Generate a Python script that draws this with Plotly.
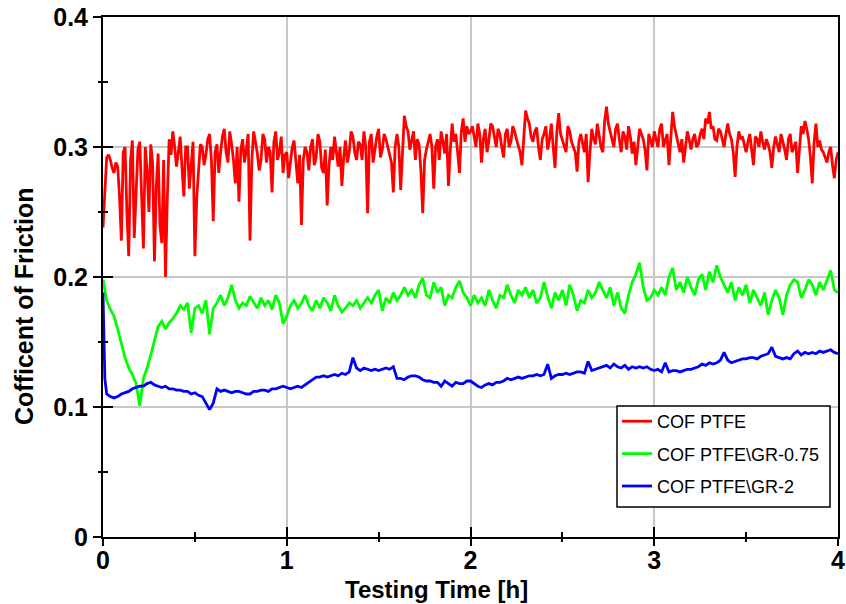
import numpy as np
import plotly.graph_objects as go

# ---- data ----
x_ticks = [0, 1, 2, 3, 4]
y_ticks = [0, 0.1, 0.2, 0.3, 0.4]
y_tick_labels = ["0", "0.1", "0.2", "0.3", "0.4"]
x_tick_labels = ["0", "1", "2", "3", "4"]
x_title = "Testing Time [h]"
y_title = "Cofficent of Friction"

series_names = ["COF PTFE", "COF PTFE\\GR-0.75", "COF PTFE\\GR-2"]
series_colors = ["#ff0000", "#00ff00", "#0000ff"]

# COF PTFE, readings at 0, 0.02, 0.04 ... 4.00 h
cof_ptfe_even = [
    0.238, 0.292, 0.290, 0.280, 0.285, 0.228, 0.300, 0.216, 0.305, 0.262,
    0.304, 0.222, 0.282, 0.302, 0.212, 0.295, 0.226, 0.200, 0.306, 0.312,
    0.285, 0.308, 0.262, 0.300, 0.290, 0.216, 0.282, 0.300, 0.294, 0.310,
    0.243, 0.302, 0.296, 0.314, 0.288, 0.302, 0.272, 0.258, 0.306, 0.298,
    0.228, 0.312, 0.295, 0.290, 0.306, 0.300, 0.265, 0.312, 0.296, 0.280,
    0.296, 0.288, 0.305, 0.272, 0.240, 0.300, 0.282, 0.306, 0.292, 0.304,
    0.280, 0.255, 0.300, 0.308, 0.285, 0.270, 0.305, 0.296, 0.308, 0.290,
    0.302, 0.312, 0.249, 0.310, 0.300, 0.314, 0.298, 0.306, 0.295, 0.265,
    0.310, 0.267, 0.324, 0.312, 0.305, 0.290, 0.302, 0.249, 0.298, 0.310,
    0.268, 0.306, 0.312, 0.295, 0.270, 0.318, 0.310, 0.280, 0.322, 0.316,
    0.312, 0.306, 0.318, 0.288, 0.314, 0.305, 0.316, 0.300, 0.310, 0.292,
    0.314, 0.304, 0.312, 0.300, 0.286, 0.328, 0.318, 0.304, 0.315, 0.290,
    0.310, 0.298, 0.318, 0.284, 0.326, 0.305, 0.296, 0.312, 0.300, 0.281,
    0.310, 0.296, 0.273, 0.314, 0.302, 0.310, 0.296, 0.331, 0.312, 0.300,
    0.318, 0.296, 0.308, 0.316, 0.295, 0.286, 0.314, 0.306, 0.282, 0.305,
    0.312, 0.300, 0.318, 0.306, 0.286, 0.327, 0.310, 0.296, 0.288, 0.312,
    0.298, 0.310, 0.302, 0.314, 0.322, 0.327, 0.316, 0.305, 0.312, 0.300,
    0.318, 0.306, 0.277, 0.312, 0.308, 0.296, 0.310, 0.286, 0.306, 0.312,
    0.298, 0.302, 0.284, 0.308, 0.296, 0.305, 0.290, 0.310, 0.300, 0.280,
    0.316, 0.320, 0.306, 0.272, 0.318, 0.305, 0.296, 0.288, 0.300, 0.276,
    0.296,
]
# COF PTFE, readings at 0.01, 0.03 ... 3.99 h
cof_ptfe_odd = [
    0.270, 0.294, 0.284, 0.288, 0.262, 0.296, 0.250, 0.290, 0.230, 0.298,
    0.268, 0.300, 0.250, 0.288, 0.270, 0.240, 0.290, 0.260, 0.294, 0.300,
    0.296, 0.284, 0.300, 0.268, 0.304, 0.260, 0.302, 0.286, 0.306, 0.290,
    0.296, 0.280, 0.308, 0.296, 0.312, 0.290, 0.300, 0.298, 0.288, 0.310,
    0.290, 0.304, 0.282, 0.310, 0.288, 0.296, 0.304, 0.290, 0.308, 0.294,
    0.276, 0.300, 0.288, 0.294, 0.290, 0.296, 0.300, 0.286, 0.310, 0.284,
    0.298, 0.286, 0.290, 0.296, 0.300, 0.292, 0.288, 0.312, 0.296, 0.304,
    0.290, 0.300, 0.304, 0.288, 0.308, 0.292, 0.310, 0.300, 0.288, 0.300,
    0.300, 0.296, 0.316, 0.298, 0.312, 0.306, 0.282, 0.290, 0.304, 0.300,
    0.300, 0.290, 0.304, 0.310, 0.298, 0.304, 0.296, 0.312, 0.304, 0.310,
    0.316, 0.300, 0.310, 0.306, 0.296, 0.318, 0.306, 0.314, 0.300, 0.310,
    0.300, 0.316, 0.306, 0.296, 0.312, 0.322, 0.308, 0.312, 0.300, 0.306,
    0.316, 0.306, 0.300, 0.312, 0.310, 0.300, 0.316, 0.304, 0.296, 0.304,
    0.302, 0.310, 0.296, 0.306, 0.318, 0.300, 0.320, 0.318, 0.306, 0.314,
    0.306, 0.312, 0.298, 0.308, 0.304, 0.300, 0.310, 0.298, 0.310, 0.300,
    0.306, 0.314, 0.300, 0.310, 0.304, 0.316, 0.302, 0.306, 0.300, 0.306,
    0.306, 0.300, 0.310, 0.306, 0.318, 0.314, 0.306, 0.314, 0.306, 0.310,
    0.310, 0.296, 0.300, 0.306, 0.302, 0.304, 0.298, 0.308, 0.300, 0.304,
    0.306, 0.296, 0.300, 0.302, 0.310, 0.298, 0.306, 0.296, 0.304, 0.298,
    0.310, 0.314, 0.292, 0.304, 0.300, 0.298, 0.292, 0.296, 0.286, 0.290,
]

# COF PTFE\GR-0.75, readings every 0.02 h from 0 to 4 h
cof_gr075 = [
    0.198, 0.182, 0.175, 0.170, 0.160, 0.148, 0.138, 0.130, 0.125, 0.118,
    0.101, 0.122, 0.130, 0.140, 0.150, 0.162, 0.166, 0.160, 0.165, 0.168,
    0.172, 0.178, 0.175, 0.180, 0.157, 0.176, 0.178, 0.172, 0.182, 0.156,
    0.176, 0.180, 0.186, 0.178, 0.184, 0.194, 0.182, 0.176, 0.180, 0.178,
    0.185, 0.180, 0.176, 0.184, 0.178, 0.182, 0.175, 0.186, 0.180, 0.164,
    0.170, 0.178, 0.182, 0.176, 0.180, 0.186, 0.178, 0.174, 0.182, 0.176,
    0.184, 0.180, 0.174, 0.186, 0.178, 0.173, 0.176, 0.180, 0.178, 0.182,
    0.176, 0.180, 0.184, 0.180, 0.186, 0.190, 0.174, 0.184, 0.180, 0.188,
    0.182, 0.186, 0.192, 0.186, 0.190, 0.184, 0.194, 0.199, 0.186, 0.184,
    0.196, 0.188, 0.192, 0.178, 0.186, 0.184, 0.192, 0.197, 0.188, 0.184,
    0.178, 0.186, 0.180, 0.184, 0.178, 0.190, 0.182, 0.176, 0.186, 0.184,
    0.194, 0.186, 0.180, 0.190, 0.186, 0.192, 0.184, 0.190, 0.180, 0.184,
    0.196, 0.185, 0.176, 0.188, 0.182, 0.190, 0.178, 0.194, 0.186, 0.174,
    0.182, 0.180, 0.190, 0.184, 0.188, 0.196, 0.190, 0.184, 0.192, 0.178,
    0.188, 0.176, 0.172, 0.186, 0.196, 0.202, 0.211, 0.192, 0.182, 0.184,
    0.190, 0.186, 0.192, 0.186, 0.200, 0.207, 0.190, 0.196, 0.188, 0.200,
    0.192, 0.186, 0.198, 0.202, 0.190, 0.204, 0.196, 0.209, 0.200, 0.194,
    0.188, 0.196, 0.182, 0.192, 0.186, 0.194, 0.180, 0.190, 0.184, 0.178,
    0.188, 0.171, 0.182, 0.190, 0.184, 0.171, 0.186, 0.194, 0.198, 0.196,
    0.184, 0.190, 0.198, 0.194, 0.186, 0.196, 0.190, 0.198, 0.205, 0.190,
    0.188,
]

# COF PTFE\GR-2: first three readings at 0, 0.005, 0.01 h, then every 0.02 h
time_gr2_start = [0.0, 0.005, 0.01]
cof_gr2_start = [0.188, 0.150, 0.122]
cof_gr2 = [
    0.110, 0.108, 0.107, 0.108, 0.110, 0.111, 0.112, 0.114, 0.115, 0.116,
    0.116, 0.118, 0.119, 0.117, 0.116, 0.115, 0.116, 0.114, 0.114, 0.113,
    0.113, 0.112, 0.112, 0.110, 0.111, 0.109, 0.108, 0.103, 0.098, 0.103,
    0.114, 0.112, 0.113, 0.112, 0.111, 0.112, 0.112, 0.111, 0.110, 0.110,
    0.112, 0.112, 0.113, 0.113, 0.112, 0.114, 0.114, 0.115, 0.116, 0.115,
    0.114, 0.115, 0.116, 0.115, 0.117, 0.119, 0.121, 0.123, 0.123, 0.124,
    0.123, 0.124, 0.125, 0.124, 0.126, 0.125, 0.127, 0.138, 0.130, 0.128,
    0.130, 0.129, 0.128, 0.129, 0.128, 0.129, 0.130, 0.129, 0.131, 0.122,
    0.122, 0.121, 0.123, 0.124, 0.124, 0.123, 0.121, 0.120, 0.120, 0.119,
    0.119, 0.116, 0.120, 0.118, 0.116, 0.119, 0.118, 0.118, 0.120, 0.120,
    0.118, 0.116, 0.115, 0.117, 0.118, 0.117, 0.119, 0.119, 0.120, 0.122,
    0.121, 0.122, 0.123, 0.122, 0.123, 0.124, 0.124, 0.125, 0.124, 0.125,
    0.133, 0.122, 0.124, 0.125, 0.125, 0.126, 0.125, 0.126, 0.127, 0.127,
    0.126, 0.135, 0.128, 0.129, 0.130, 0.131, 0.132, 0.130, 0.133, 0.131,
    0.130, 0.132, 0.129, 0.131, 0.130, 0.131, 0.130, 0.131, 0.129, 0.128,
    0.129, 0.127, 0.134, 0.127, 0.128, 0.128, 0.127, 0.128, 0.129, 0.129,
    0.130, 0.131, 0.133, 0.132, 0.134, 0.133, 0.134, 0.136, 0.142, 0.136,
    0.134, 0.135, 0.136, 0.137, 0.137, 0.138, 0.138, 0.137, 0.139, 0.140,
    0.141, 0.146, 0.139, 0.138, 0.137, 0.138, 0.137, 0.141, 0.143, 0.140,
    0.142, 0.141, 0.142, 0.141, 0.143, 0.142, 0.143, 0.144, 0.142, 0.141,
]

STEP = 0.02
# merge the two interleaved PTFE reading lists in time order
time_ptfe, cof_ptfe = [], []
for k, v in enumerate(cof_ptfe_even):
    time_ptfe.append(k * STEP)
    cof_ptfe.append(v)
    if k < len(cof_ptfe_odd):
        time_ptfe.append(k * STEP + STEP / 2)
        cof_ptfe.append(cof_ptfe_odd[k])
time_gr075 = np.arange(len(cof_gr075)) * STEP
time_gr2 = list(time_gr2_start) + list((np.arange(len(cof_gr2)) + 1) * STEP)
cof_gr2_all = cof_gr2_start + cof_gr2

FONT = "Arial, Liberation Sans, sans-serif"
BIG = dict(family=FONT, size=25, color="black", weight="bold")
TITLE_X_FONT = dict(family=FONT, size=24, color="black", weight="bold")

# plot-area geometry in pixels (figure 846 x 604)
W, H = 846, 604
ML, MR, MT, MB = 103, 8, 17, 67
PW, PH = W - ML - MR, H - MT - MB


def px_x(p):
    return (p - ML) / PW


def px_y(p):
    return (H - MB - p) / PH


fig = go.Figure()
all_series = [(time_ptfe, cof_ptfe), (time_gr075, cof_gr075), (time_gr2, cof_gr2_all)]
for i, ((t, v), name, col) in enumerate(zip(all_series, series_names, series_colors)):
    fig.add_trace(go.Scatter(
        x=t, y=v, mode="lines", name=name,
        line=dict(color=col, width=2.8),
        legendgroup=f"g{i}",
    ))

# dummy traces to activate the overlay axes used for crossing tick marks
fig.add_trace(go.Scatter(x=[None], y=[None], xaxis="x2", yaxis="y2",
                         showlegend=False, hoverinfo="skip"))
fig.add_trace(go.Scatter(x=[None], y=[None], xaxis="x3", yaxis="y2",
                         showlegend=False, hoverinfo="skip"))

tick_axis = dict(showticklabels=False, showline=False, showgrid=False,
                 zeroline=False, automargin=False, tickwidth=2, tickcolor="black")

fig.update_layout(
    width=W, height=H, autosize=False,
    margin=dict(l=ML, r=MR, t=MT, b=MB),
    paper_bgcolor="white", plot_bgcolor="white",
    font=dict(family=FONT, color="black"),
    showlegend=True,
    legend=dict(
        x=px_x(617), y=px_y(403), xanchor="left", yanchor="top",
        bgcolor="rgba(0,0,0,0)", borderwidth=0,
        font=dict(family=FONT, size=18, color="black"),
        tracegroupgap=6, traceorder="grouped",
    ),
    xaxis=dict(
        showline=True, linecolor="black", linewidth=2, zeroline=False,
        range=[0, 4], tickvals=x_ticks, ticktext=x_tick_labels,
        mirror=True, automargin=False,
        ticks="", ticklabelstandoff=0,
        showgrid=True, gridcolor="#c8c8c8", gridwidth=1.5,
        tickfont=BIG,
    ),
    yaxis=dict(
        showline=True, linecolor="black", linewidth=2, zeroline=False,
        range=[0, 0.4], tickvals=y_ticks, ticktext=y_tick_labels,
        mirror=True, automargin=False,
        ticks="outside", ticklen=8, tickwidth=2, tickcolor="black",
        minor=dict(dtick=0.05, ticks="outside", ticklen=3, tickwidth=2,
                   tickcolor="black", showgrid=False),
        showgrid=True, gridcolor="#c8c8c8", gridwidth=1.5,
        tickfont=BIG,
    ),
    xaxis2=dict(
        **tick_axis, overlaying="x", anchor="y2", side="bottom",
        range=[0, 4], tickvals=x_ticks,
        ticks="inside", ticklen=10,
        minor=dict(dtick=0.5, ticks="inside", ticklen=5, tickwidth=2,
                   tickcolor="black", showgrid=False),
    ),
    xaxis3=dict(
        **tick_axis, overlaying="x", anchor="y2", side="bottom",
        range=[0, 4], tickvals=x_ticks,
        ticks="outside", ticklen=8,
        minor=dict(dtick=0.5, ticks="outside", ticklen=4, tickwidth=2,
                   tickcolor="black", showgrid=False),
    ),
    yaxis2=dict(
        **tick_axis, overlaying="y", anchor="x2", side="left",
        range=[0, 0.4], tickvals=y_ticks,
        ticks="inside", ticklen=10,
        minor=dict(dtick=0.05, ticks="inside", ticklen=5, tickwidth=2,
                   tickcolor="black", showgrid=False),
    ),
    shapes=[dict(
        type="rect", xref="paper", yref="paper", layer="above",
        x0=px_x(617), x1=px_x(830), y0=px_y(507), y1=px_y(406),
        line=dict(color="black", width=1.5), fillcolor="white",
    )],
    annotations=[
        dict(text=x_title, xref="paper", yref="paper",
             x=px_x(436), y=px_y(589), xanchor="center", yanchor="middle",
             showarrow=False, font=TITLE_X_FONT),
        dict(text=y_title, xref="paper", yref="paper", textangle=-90,
             x=px_x(24), y=px_y(307), xanchor="center", yanchor="middle",
             showarrow=False, font=BIG),
    ],
)

fig.write_html("out.html")
